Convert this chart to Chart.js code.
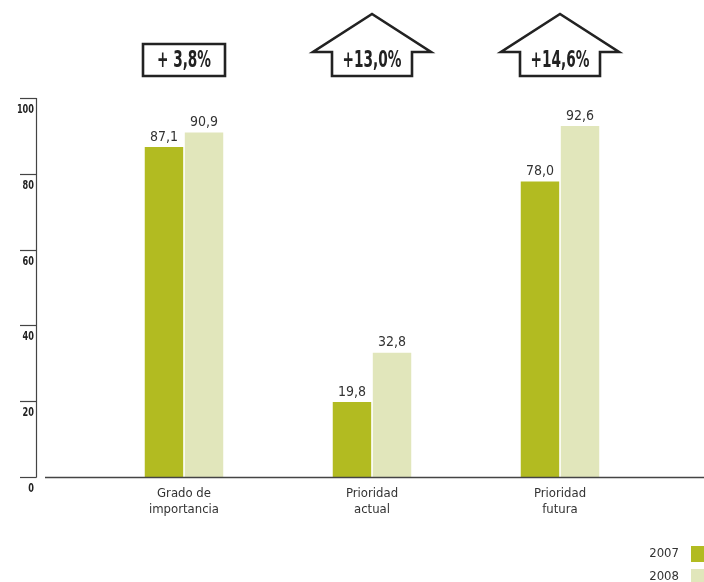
<!DOCTYPE html>
<html>
<head>
<meta charset="utf-8">
<script src="https://cdn.jsdelivr.net/npm/chart.js@4/dist/chart.umd.min.js"></script>
<style>
  html, body { margin: 0; padding: 0; background: #fff; }
  #wrap { width: 704px; height: 582px; position: relative; }
</style>
</head>
<body>
<div id="wrap"><canvas id="chart" width="704" height="582"></canvas></div>
<script>
const categories = [['Grado de', 'importancia'], ['Prioridad', 'actual'], ['Prioridad', 'futura']];
const values2007 = [87.1, 19.8, 78.0];
const values2008 = [90.9, 32.8, 92.6];
const seriesNames = ['2007', '2008'];
const changeLabels = ['+ 3,8%', '+13,0%', '+14,6%'];
const changeShapes = ['box', 'arrow', 'arrow'];
const yTicks = [0, 20, 40, 60, 80, 100];

const colors = ['#b2bb21', '#e1e6bb'];
const ink = '#222';
const axisColor = '#444';
const condensed = '"DejaVu Sans Condensed", "DejaVu Sans", sans-serif';
const labelFont = '13px ' + condensed;

const fmt = v => v.toFixed(1).replace('.', ',');

// squeezed bold text for the heavy condensed labels
function squeezed(ctx, text, x, y, squeeze, align) {
  ctx.save();
  ctx.translate(x, y);
  ctx.scale(squeeze, 1);
  ctx.textAlign = align;
  ctx.fillText(text, 0, 0);
  ctx.restore();
}

// axes, value labels, change badges and legend, all drawn from the scales
const decorations = {
  id: 'decorations',
  afterDatasetsDraw(chart) {
    const { ctx, scales: { x, y } } = chart;
    const zero = Math.round(y.getPixelForValue(0)) + 0.5;
    ctx.save();

    // y axis line and ticks
    ctx.strokeStyle = axisColor;
    ctx.lineWidth = 1.2;
    const axisX = 36.5;
    ctx.beginPath();
    ctx.moveTo(axisX, Math.round(y.getPixelForValue(100)));
    ctx.lineTo(axisX, zero);
    ctx.stroke();
    ctx.font = 'bold 13px ' + condensed;
    ctx.fillStyle = ink;
    ctx.textBaseline = 'middle';
    yTicks.forEach(t => {
      const py = Math.round(y.getPixelForValue(t)) + 0.5;
      ctx.beginPath();
      ctx.moveTo(20, py);
      ctx.lineTo(axisX, py);
      ctx.stroke();
      squeezed(ctx, String(t), 34, py + 11, 0.7, 'right');
    });

    // baseline
    ctx.lineWidth = 1.5;
    ctx.beginPath();
    ctx.moveTo(45, zero);
    ctx.lineTo(704, zero);
    ctx.stroke();

    // value labels above bars
    ctx.font = '14px ' + condensed;
    ctx.fillStyle = '#333';
    ctx.textAlign = 'center';
    ctx.textBaseline = 'bottom';
    chart.data.datasets.forEach((ds, i) => {
      chart.getDatasetMeta(i).data.forEach((bar, j) => {
        ctx.fillText(fmt(ds.data[j]), bar.x, bar.y - 3);
      });
    });

    // category labels
    ctx.font = labelFont;
    ctx.textBaseline = 'middle';
    categories.forEach((lines, j) => {
      const cx = x.getPixelForValue(j);
      lines.forEach((ln, k) => ctx.fillText(ln, cx, 494 + k * 16));
    });

    // change badges
    ctx.strokeStyle = ink;
    ctx.lineWidth = 2.6;
    ctx.lineJoin = 'miter';
    changeLabels.forEach((txt, j) => {
      const cx = x.getPixelForValue(j);
      ctx.beginPath();
      if (changeShapes[j] === 'box') {
        ctx.rect(cx - 41, 44, 82, 32);
      } else {
        ctx.moveTo(cx - 40, 76);
        ctx.lineTo(cx - 40, 52);
        ctx.lineTo(cx - 59, 52);
        ctx.lineTo(cx, 14);
        ctx.lineTo(cx + 59, 52);
        ctx.lineTo(cx + 40, 52);
        ctx.lineTo(cx + 40, 76);
        ctx.closePath();
      }
      ctx.stroke();
      ctx.font = 'bold 23px ' + condensed;
      ctx.fillStyle = ink;
      ctx.textBaseline = 'middle';
      squeezed(ctx, txt, cx, 61, 0.66, 'center');
    });

    // legend, bottom right
    ctx.font = labelFont;
    ctx.fillStyle = '#333';
    ctx.textAlign = 'right';
    ctx.textBaseline = 'middle';
    seriesNames.forEach((name, i) => {
      const top = 546 + i * 23;
      ctx.fillText(name, 679, top + 8);
      ctx.fillStyle = colors[i];
      ctx.fillRect(691, top, 13, 16);
      ctx.fillStyle = '#333';
    });

    ctx.restore();
  }
};

new Chart(document.getElementById('chart'), {
  type: 'bar',
  data: {
    labels: categories.map(c => c.join(' ')),
    datasets: [
      { label: seriesNames[0], data: values2007, backgroundColor: colors[0] },
      { label: seriesNames[1], data: values2008, backgroundColor: colors[1] }
    ]
  },
  options: {
    responsive: false,
    animation: false,
    layout: { padding: { left: 90, right: 50, top: 98, bottom: 105 } },
    scales: {
      x: { display: false },
      y: { display: false, min: 0, max: 100 }
    },
    plugins: {
      legend: { display: false },
      tooltip: { enabled: false }
    },
    categoryPercentage: 0.426,
    barPercentage: 0.96
  },
  plugins: [decorations]
});
</script>
</body>
</html>
